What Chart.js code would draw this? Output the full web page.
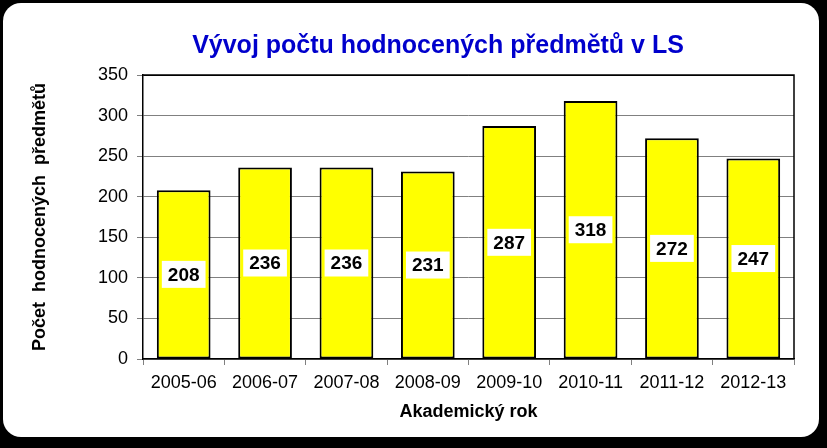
<!DOCTYPE html>
<html>
<head>
<meta charset="utf-8">
<script src="https://cdn.jsdelivr.net/npm/chart.js@4"></script>
<style>
  html, body { margin: 0; padding: 0; background: #000; }
  #card {
    position: absolute; left: 3px; top: 3px; width: 816px; height: 434px;
    background: #fff; border-radius: 18px;
  }
  #wrap { position: absolute; left: 0; top: 0; width: 827px; height: 448px; }
</style>
</head>
<body>
<div id="card"></div>
<div id="wrap"><canvas id="myChart" width="827" height="448"></canvas></div>
<script>
const years = ["2005-06", "2006-07", "2007-08", "2008-09", "2009-10", "2010-11", "2011-12", "2012-13"];
const counts = [208, 236, 236, 231, 287, 318, 272, 247];
const yTicks = [0, 50, 100, 150, 200, 250, 300, 350];

const FONT = "'Liberation Sans', Arial, sans-serif";

// title + frame + value boxes
const decor = {
  id: "decor",
  afterDatasetsDraw(chart) {
    const { ctx, chartArea: { top, right, bottom } } = chart;
    ctx.save();
    // black frame top / right
    ctx.strokeStyle = "#000";
    ctx.lineWidth = 1.5;
    ctx.beginPath();
    ctx.moveTo(chart.chartArea.left, top);
    ctx.lineTo(right, top);
    ctx.lineTo(right, bottom);
    ctx.stroke();

    // value labels in white boxes
    ctx.font = "bold 19px " + FONT;
    ctx.textAlign = "center";
    ctx.textBaseline = "middle";
    chart.getDatasetMeta(0).data.forEach((bar, i) => {
      const txt = String(counts[i]);
      const w = ctx.measureText(txt).width + 12;
      const h = 27;
      const cy = (bar.y + bar.base) / 2;
      ctx.fillStyle = "#fff";
      ctx.fillRect(bar.x - w / 2, cy - h / 2, w, h);
      ctx.fillStyle = "#000";
      ctx.fillText(txt, bar.x, cy + 1);
    });

    // chart title
    ctx.font = "bold 25px " + FONT;
    ctx.fillStyle = "#0000CC";
    ctx.fillText("Vývoj počtu hodnocených předmětů v LS", 438, 46);
    ctx.restore();
  },
};

new Chart(document.getElementById("myChart"), {
  type: "bar",
  data: {
    labels: years,
    datasets: [
      {
        data: counts,
        backgroundColor: "#FFFF00",
        borderColor: "#000",
        borderWidth: 2,
        borderSkipped: false,
        barPercentage: 0.66,
        categoryPercentage: 1,
      },
    ],
  },
  options: {
    responsive: false,
    animation: false,
    layout: { padding: { top: 75, right: 33, bottom: 24, left: 0 } },
    scales: {
      y: {
        min: 0,
        max: 350,
        afterBuildTicks(scale) {
          scale.ticks = yTicks.map((v) => ({ value: v }));
        },
        afterFit(scale) {
          scale.width = 143;
        },
        border: { display: true, color: "#000", width: 1.5 },
        grid: {
          color: (c) => (c.tick && c.tick.value === 350 ? "#000" : "#808080"),
          tickLength: 6,
          tickColor: "#808080",
        },
        ticks: {
          color: "#000",
          padding: 9,
          font: { family: FONT, size: 18 },
        },
        title: {
          display: true,
          text: "Počet  hodnocených  předmětů",
          color: "#000",
          font: { family: FONT, size: 18, weight: "bold" },
          padding: { top: 29, bottom: 0 },
        },
      },
      x: {
        afterFit(scale) {
          scale.height = 65;
        },
        border: { display: true, color: "#000", width: 1.5 },
        grid: {
          offset: true,
          drawOnChartArea: false,
          tickLength: 6,
          color: "#808080",
        },
        ticks: {
          color: "#000",
          padding: 7,
          font: { family: FONT, size: 18 },
        },
        title: {
          display: true,
          text: "Akademický rok",
          color: "#000",
          font: { family: FONT, size: 18, weight: "bold" },
          padding: { top: 0, bottom: 1 },
        },
      },
    },
    plugins: {
      legend: { display: false },
      title: { display: false },
      tooltip: { enabled: false },
    },
  },
  plugins: [decor],
});
</script>
</body>
</html>
